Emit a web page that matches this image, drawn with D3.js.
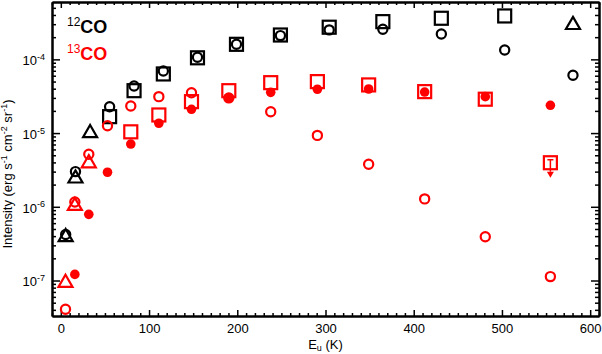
<!DOCTYPE html>
<html>
<head>
<meta charset="utf-8">
<script src="https://cdn.jsdelivr.net/npm/d3@7"></script>
<style>
  body { margin: 0; background: #fff; }
  svg { display: block; font-family: "Liberation Sans", Arial, sans-serif; }
  .axis path, .axis line { stroke: #000; }
  .axis path { stroke-width: 2; }
  .axis line { stroke-width: 1.5; }
</style>
</head>
<body>
<svg id="chart"></svg>
<script>

// upper level energies (K), J = 1..14
const eu12 = [5.5, 16.6, 33.2, 55.3, 83.0, 116.2, 154.9, 199.1, 248.9, 304.2, 365.0, 431.3, 503.1, 580.5];
const eu13 = [5.3, 15.9, 31.7, 52.9, 79.3, 111.1, 148.1, 190.4, 237.9, 290.8, 348.9, 412.4, 481.1, 554.9];

// 12CO (black)
const co12Circle   = [4.2e-7, 3.0e-6, null, 2.28e-5, 4.35e-5, 6.96e-5, 1.07e-4, 1.60e-4, 2.10e-4, 2.51e-4, 2.56e-4, 2.21e-4, 1.34e-4, 6.08e-5];
const co12Square   = [null, null, null, 1.67e-5, 3.76e-5, 6.34e-5, 1.05e-4, 1.60e-4, 2.14e-4, 2.73e-4, 3.25e-4, 3.61e-4, 3.88e-4, null];
const co12Triangle = [4.0e-7, 2.5e-6, 1.03e-5, null, null, null, null, null, null, null, null, null, null, 3.02e-4];

// 13CO (red)
const co13Circle   = [4.07e-8, 1.16e-6, 5.15e-6, 1.26e-5, 2.33e-5, 3.12e-5, 3.53e-5, 3.0e-5, 1.95e-5, 9.3e-6, 3.77e-6, 1.28e-6, 3.93e-7, 1.13e-7];
const co13Filled   = [null, 1.21e-7, 7.9e-7, 2.94e-6, 7.1e-6, 1.36e-5, 2.1e-5, 3.02e-5, 3.57e-5, 3.93e-5, 3.96e-5, 3.6e-5, 3.12e-5, 2.38e-5];
const co13Square   = [null, null, null, null, 1.04e-5, 1.76e-5, 2.67e-5, 3.76e-5, 4.83e-5, 4.99e-5, 4.5e-5, 3.65e-5, 2.88e-5, 3.96e-6];
const co13Upper    = [false, false, false, false, false, false, false, false, false, false, false, false, false, true];
const co13Triangle = [9.6e-8, 1.06e-6, 4.02e-6, null, null, null, null, null, null, null, null, null, null, null];

const xMajor = [0, 100, 200, 300, 400, 500, 600];
const yMajorExp = [-7, -6, -5, -4];

const margin = {top: 2, right: 3, bottom: 38, left: 52},
	width = 602 - margin.left - margin.right,
	height = 354 - margin.top - margin.bottom;

const black = "#000000", red = "#ff0000";

const xScale = d3.scaleLinear().domain([-10, 610]).range([0, width]);
const yScale = d3.scaleLog().domain([3.3e-8, 6e-4]).range([height, 0]);

const svg = d3.select("#chart")
	.attr("width", width + margin.left + margin.right)
	.attr("height", height + margin.top + margin.bottom)
	.append("g")
	.attr("transform", "translate(" + margin.left + "," + margin.top + ")");

// minor ticks
const xMinor = d3.range(-10, 611, 10).filter(v => xMajor.indexOf(v) < 0);
const yMinor = [];
for (let e = -8; e <= -4; e++) {
	for (let m = 2; m <= 9; m++) {
		const v = m * Math.pow(10, e);
		if (v > 3.3e-8 && v < 6e-4) yMinor.push(v);
	}
}
const yMajor = yMajorExp.map(e => Math.pow(10, e));

// bottom axis
svg.append("g")
	.attr("class", "axis")
	.attr("transform", "translate(0," + height + ")")
	.call(d3.axisBottom(xScale).tickValues(xMinor).tickSize(-3).tickFormat("").tickSizeOuter(0));
const xb = svg.append("g")
	.attr("class", "axis")
	.attr("transform", "translate(0," + height + ")")
	.call(d3.axisBottom(xScale).tickValues(xMajor).tickSize(-6).tickSizeOuter(0).tickPadding(8));
xb.selectAll("text").attr("font-size", "13px").attr("font-family", "Liberation Sans, Arial").attr("fill", "#000");

// top axis
svg.append("g")
	.attr("class", "axis")
	.call(d3.axisTop(xScale).tickValues(xMinor).tickSize(-3).tickFormat("").tickSizeOuter(0));
svg.append("g")
	.attr("class", "axis")
	.call(d3.axisTop(xScale).tickValues(xMajor).tickSize(-6).tickFormat("").tickSizeOuter(0));

// left axis
svg.append("g")
	.attr("class", "axis")
	.call(d3.axisLeft(yScale).tickValues(yMinor).tickSize(-4).tickFormat("").tickSizeOuter(0));
const yl = svg.append("g")
	.attr("class", "axis")
	.call(d3.axisLeft(yScale).tickValues(yMajor).tickSize(-8).tickSizeOuter(0).tickPadding(7).tickFormat(""));
yl.selectAll(".tick").append("text")
	.attr("x", -7)
	.attr("dy", "0.42em")
	.attr("text-anchor", "end")
	.attr("fill", "#000")
	.attr("font-size", "13px")
	.each(function(d) {
		const t = d3.select(this);
		t.append("tspan").text("10");
		t.append("tspan").attr("font-size", "9px").attr("dy", "-0.6em")
			.text("-" + Math.abs(Math.round(Math.log10(d))));
	});

// right axis
svg.append("g")
	.attr("class", "axis")
	.attr("transform", "translate(" + width + ",0)")
	.call(d3.axisRight(yScale).tickValues(yMinor).tickSize(-4).tickFormat("").tickSizeOuter(0));
svg.append("g")
	.attr("class", "axis")
	.attr("transform", "translate(" + width + ",0)")
	.call(d3.axisRight(yScale).tickValues(yMajor).tickSize(-8).tickFormat("").tickSizeOuter(0));

// axis titles
const xt = svg.append("text")
	.attr("x", xScale(300))
	.attr("y", height + 33)
	.attr("text-anchor", "middle")
	.attr("font-size", "13px");
xt.append("tspan").text("E");
xt.append("tspan").attr("font-size", "9px").attr("dy", "2").text("u");
xt.append("tspan").attr("dy", "-2").text(" (K)");

const yt = svg.append("text")
	.attr("transform", "translate(" + (-40) + "," + 172 + ") rotate(-90)")
	.attr("text-anchor", "middle")
	.attr("font-size", "13px");
yt.append("tspan").text("Intensity (erg s");
yt.append("tspan").attr("font-size", "9px").attr("dy", "-5").text("-1");
yt.append("tspan").attr("dy", "5").text(" cm");
yt.append("tspan").attr("font-size", "9px").attr("dy", "-5").text("-2");
yt.append("tspan").attr("dy", "5").text(" sr");
yt.append("tspan").attr("font-size", "9px").attr("dy", "-5").text("-1");
yt.append("tspan").attr("dy", "5").text(")");

// markers
function pts(eu, vals) {
	return eu.map((e, i) => ({eu: e, value: vals[i], i: i})).filter(d => d.value != null);
}

function drawSquares(eu, vals, color) {
	svg.append("g").selectAll("rect")
		.data(pts(eu, vals)).enter()
		.append("rect")
		.attr("x", d => xScale(d.eu) - 6.5)
		.attr("y", d => yScale(d.value) - 6.5)
		.attr("width", 13)
		.attr("height", 13)
		.attr("fill", "none")
		.attr("stroke", color)
		.attr("stroke-width", 2.2);
}

function drawCircles(eu, vals, color, filled) {
	svg.append("g").selectAll("circle")
		.data(pts(eu, vals)).enter()
		.append("circle")
		.attr("cx", d => xScale(d.eu))
		.attr("cy", d => yScale(d.value))
		.attr("r", filled ? 4.8 : 4.6)
		.attr("fill", filled ? color : "none")
		.attr("stroke", filled ? "none" : color)
		.attr("stroke-width", 2.2);
}

function drawTriangles(eu, vals, color) {
	const tri = d3.symbol().type(d3.symbolTriangle).size(85);
	svg.append("g").selectAll("path")
		.data(pts(eu, vals)).enter()
		.append("path")
		.attr("transform", d => "translate(" + xScale(d.eu) + "," + (yScale(d.value) + 1) + ")")
		.attr("d", tri)
		.attr("fill", "none")
		.attr("stroke", color)
		.attr("stroke-width", 2.2)
		.attr("stroke-linejoin", "miter");
}

drawSquares(eu12, co12Square, black);
drawCircles(eu12, co12Circle, black, false);
drawTriangles(eu12, co12Triangle, black);

drawSquares(eu13, co13Square, red);
drawCircles(eu13, co13Circle, red, false);
drawCircles(eu13, co13Filled, red, true);
drawTriangles(eu13, co13Triangle, red);

// upper limit arrow
const lim = pts(eu13, co13Square).filter(d => co13Upper[d.i]);
const arrows = svg.append("g").selectAll("g").data(lim).enter().append("g")
	.attr("transform", d => "translate(" + xScale(d.eu) + "," + yScale(d.value) + ")");
arrows.append("line")
	.attr("x1", 0).attr("x2", 0).attr("y1", -3).attr("y2", 9)
	.attr("stroke", red).attr("stroke-width", 1.5);
arrows.append("line")
	.attr("x1", -3).attr("x2", 3).attr("y1", -3).attr("y2", -3)
	.attr("stroke", red).attr("stroke-width", 1.5);
arrows.append("path")
	.attr("d", "M-3.5,9 L3.5,9 L0,15 Z")
	.attr("fill", red);

// legend
const legend = svg.append("g").attr("font-weight", "bold");
const l1 = legend.append("text").attr("x", 15).attr("y", 31).attr("fill", black).attr("font-size", "18px");
l1.append("tspan").attr("font-size", "12px").attr("font-weight", "normal").attr("dy", "-7").text("12");
l1.append("tspan").attr("dy", "7").text("CO");
const l2 = legend.append("text").attr("x", 15).attr("y", 58).attr("fill", red).attr("font-size", "18px");
l2.append("tspan").attr("font-size", "12px").attr("font-weight", "normal").attr("dy", "-7").text("13");
l2.append("tspan").attr("dy", "7").text("CO");

</script>
</body>
</html>
